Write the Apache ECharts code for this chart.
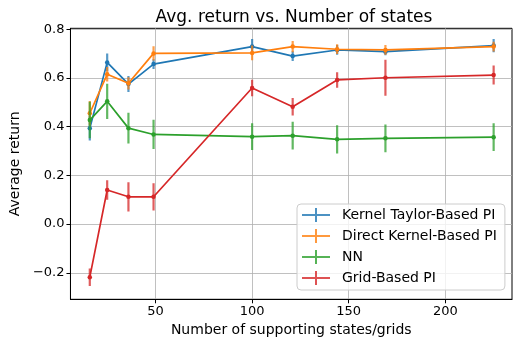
<!DOCTYPE html>
<html><head><meta charset="utf-8">
<script src="https://cdn.jsdelivr.net/npm/echarts@6/dist/echarts.min.js"></script>
<style>html,body{margin:0;padding:0;background:#fff}#c{width:519px;height:345px}</style>
</head><body><div id="c"></div>
<script>
const xStates = [16, 25, 36, 49, 100, 121, 144, 169, 225];
const kernelTaylor = [0.393, 0.664, 0.575, 0.657, 0.729, 0.690, 0.715, 0.708, 0.733];
const kernelTaylorErr = [0.05, 0.036, 0.033, 0.02, 0.031, 0.02, 0.02, 0.015, 0.027];
const directKernel = [0.455, 0.615, 0.578, 0.701, 0.703, 0.729, 0.718, 0.715, 0.729];
const directKernelErr = [0.05, 0.03, 0.025, 0.029, 0.03, 0.023, 0.02, 0.02, 0.02];
const nn = [0.427, 0.504, 0.394, 0.368, 0.359, 0.363, 0.348, 0.352, 0.357];
const nnErr = [0.075, 0.072, 0.063, 0.06, 0.055, 0.057, 0.058, 0.057, 0.057];
const grid = [-0.218, 0.140, 0.112, 0.112, 0.559, 0.482, 0.592, 0.601, 0.612];
const gridErr = [0.036, 0.04, 0.06, 0.056, 0.034, 0.036, 0.032, 0.074, 0.039];
const xTicks = [50, 100, 150, 200];
const yTicks = [-0.2, 0.0, 0.2, 0.4, 0.6, 0.8];
const names = ['Kernel Taylor-Based PI', 'Direct Kernel-Based PI', 'NN', 'Grid-Based PI'];
const colors = ['#1f77b4', '#ff7f0e', '#2ca02c', '#d62728'];
const vals = [kernelTaylor, directKernel, nn, grid];
const errs = [kernelTaylorErr, directKernelErr, nnErr, gridErr];

const font = 'DejaVu Sans';
const chart = echarts.init(document.getElementById('c'));
const series = [];
vals.forEach((v, i) => {
  series.push({
    name: names[i], type: 'custom', z: 2 + i * 2,
    data: xStates.map((x, j) => [x, v[j], errs[i][j]]),
    clip: true,
    renderItem: (params, api) => {
      const x = api.value(0), y = api.value(1), e = api.value(2);
      const p1 = api.coord([x, y - e]), p2 = api.coord([x, y + e]);
      return {type: 'line', shape: {x1: p1[0], y1: p1[1], x2: p2[0], y2: p2[1]},
        style: {stroke: colors[i], lineWidth: 2.2, opacity: 0.75}};
    },
    itemStyle: {color: colors[i]}
  });
  series.push({
    name: names[i], type: 'line', z: 3 + i * 2,
    data: xStates.map((x, j) => [x, v[j]]),
    symbol: 'circle', symbolSize: 4.5, showSymbol: true,
    lineStyle: {color: colors[i], width: 1.7},
    itemStyle: {color: colors[i]},
    animation: false
  });
});

const icon = 'path://M0,6h28v2H0z M13,0h2v14h-2z';
chart.setOption({
  animation: false,
  title: {text: 'Avg. return vs. Number of states', left: 289, top: 4, textAlign: 'center',
    textStyle: {fontFamily: font, fontSize: 17, fontWeight: 'normal', color: '#000'}},
  grid: {left: 66.5, right: 7, top: 28.3, bottom: 45.7, show: true, borderColor: '#000', borderWidth: 1, backgroundColor: 'transparent'},
  legend: {
    orient: 'vertical', left: 297, top: 204, align: 'left',
    data: names.map((n, i) => ({name: n, icon: icon, itemStyle: {color: colors[i], opacity: 0.8}})),
    itemWidth: 28, itemHeight: 14, itemGap: 7,
    padding: [4, 8, 5, 5],
    backgroundColor: 'rgba(255,255,255,0.8)', borderColor: '#cccccc', borderWidth: 1, borderRadius: 4,
    textStyle: {fontFamily: font, fontSize: 14, color: '#000', padding: [0, 0, 0, 7]},
    selectedMode: false
  },
  xAxis: {
    type: 'value', min: 6, max: 234.5,
    name: 'Number of supporting states/grids', nameLocation: 'middle', nameGap: 24,
    nameTextStyle: {fontFamily: font, fontSize: 14, color: '#000'},
    axisLine: {show: true, onZero: false, lineStyle: {color: '#000'}},
    axisTick: {show: true, length: 4, lineStyle: {color: '#000'}, customValues: xTicks},
    axisLabel: {fontFamily: font, fontSize: 13, color: '#000', margin: 6, customValues: xTicks, formatter: v => String(v)},
    splitLine: {show: true, lineStyle: {color: '#b0b0b0', width: 0.8}}
  },
  yAxis: {
    type: 'value', min: -0.309, max: 0.804,
    name: 'Average return', nameLocation: 'middle', nameGap: 46, nameRotate: 90,
    nameTextStyle: {fontFamily: font, fontSize: 14, color: '#000'},
    axisLine: {show: true, onZero: false, lineStyle: {color: '#000'}},
    axisTick: {show: true, length: 4, lineStyle: {color: '#000'}, customValues: yTicks},
    axisLabel: {fontFamily: font, fontSize: 13, color: '#000', margin: 6, customValues: yTicks,
      formatter: v => v.toFixed(1).replace('-', '\u2212')},
    splitLine: {show: true, lineStyle: {color: '#b0b0b0', width: 0.8}}
  },
  series: series
});
</script></body></html>
